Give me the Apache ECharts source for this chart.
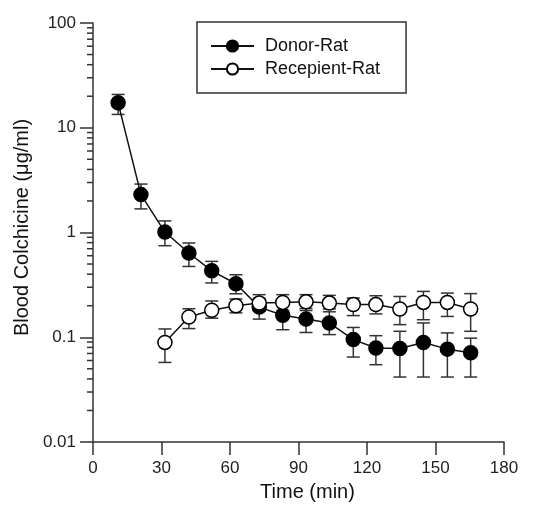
<!DOCTYPE html>
<html>
<head>
<meta charset="utf-8">
<script src="https://cdn.jsdelivr.net/npm/echarts@6/dist/echarts.min.js"></script>
<style>
html,body{margin:0;padding:0;background:#fff;}
#chart{width:536px;height:507px;}
</style>
</head>
<body>
<div id="chart"></div>
<script>
// Time (min)
const donorTimes = [11.0, 21.0, 31.5, 42.0, 52.0, 62.6, 72.8, 83.1, 93.3, 103.5, 114.0, 123.9, 134.4, 144.7, 155.2, 165.4];
const donorMean  = [17.3, 2.30, 1.01, 0.637, 0.431, 0.324, 0.194, 0.162, 0.149, 0.137, 0.095, 0.079, 0.078, 0.089, 0.077, 0.071];
const donorUpper = [20.8, 2.90, 1.29, 0.794, 0.530, 0.395, 0.235, 0.200, 0.188, 0.175, 0.124, 0.1035, 0.114, 0.137, 0.110, 0.098];
const donorLower = [13.4, 1.68, 0.748, 0.474, 0.330, 0.26, 0.149, 0.118, 0.111, 0.106, 0.0647, 0.0547, 0.0417, 0.0417, 0.0417, 0.0417];

const recipTimes = [31.5, 42.0, 52.0, 62.6, 72.8, 83.1, 93.3, 103.5, 114.0, 123.9, 134.4, 144.7, 155.2, 165.4];
const recipMean  = [0.0893, 0.156, 0.181, 0.200, 0.212, 0.215, 0.218, 0.212, 0.205, 0.205, 0.186, 0.215, 0.215, 0.186];
const recipUpper = [0.120, 0.187, 0.222, 0.232, 0.255, 0.255, 0.255, 0.251, 0.237, 0.249, 0.245, 0.274, 0.264, 0.261];
const recipLower = [0.0575, 0.121, 0.152, 0.171, 0.177, 0.180, 0.180, 0.186, 0.161, 0.167, 0.132, 0.147, 0.158, 0.114];

const yTickLabels = ['0.01', '0.1', '1', '10', '100'];
const yMinorTicks = [0.02,0.03,0.04,0.05,0.06,0.07,0.08,0.09,
                     0.2,0.3,0.4,0.5,0.6,0.7,0.8,0.9,
                     2,3,4,5,6,7,8,9,
                     20,30,40,50,60,70,80,90];

const FONT = '"Liberation Sans", Arial, sans-serif';
const AX = '#333';

function zipErr(t, lo, hi) { return t.map((x, i) => [x, lo[i], hi[i]]); }
function zipPts(t, v) { return t.map((x, i) => [x, v[i]]); }

function errRender(params, api) {
  const x = api.value(0), lo = api.value(1), hi = api.value(2);
  const pHi = api.coord([x, hi]);
  const pLo = api.coord([x, lo]);
  const w = 6.5;
  const style = { stroke: AX, lineWidth: 1.5, fill: null };
  return {
    type: 'group',
    children: [
      { type: 'line', shape: { x1: pHi[0], y1: pHi[1], x2: pLo[0], y2: pLo[1] }, style: style },
      { type: 'line', shape: { x1: pHi[0] - w, y1: pHi[1], x2: pHi[0] + w, y2: pHi[1] }, style: style },
      { type: 'line', shape: { x1: pLo[0] - w, y1: pLo[1], x2: pLo[0] + w, y2: pLo[1] }, style: style }
    ]
  };
}

function minorTickRender(params, api) {
  const p = api.coord([0, api.value(1)]);
  return { type: 'line', shape: { x1: p[0] - 6, y1: p[1], x2: p[0], y2: p[1] },
           style: { stroke: AX, lineWidth: 1.5 } };
}

const chart = echarts.init(document.getElementById('chart'), null, { renderer: 'canvas' });
chart.setOption({
  animation: false,
  backgroundColor: '#fff',
  textStyle: { fontFamily: FONT },
  grid: { left: 93, right: 32, top: 23, bottom: 65 },
  legend: {
    data: ['Donor-Rat', 'Recepient-Rat'],
    orient: 'vertical',
    left: 197, top: 22,
    padding: [15, 26, 15, 13],
    itemGap: 5,
    itemWidth: 43, itemHeight: 14,
    borderColor: AX, borderWidth: 1.5,
    backgroundColor: '#fff',
    selectedMode: false,
    textStyle: { fontFamily: FONT, fontSize: 18, color: '#111', padding: [0, 0, 0, 6] }
  },
  xAxis: {
    type: 'value', min: 0, max: 180, interval: 30,
    name: 'Time (min)', nameLocation: 'middle', nameGap: 40,
    nameTextStyle: { fontFamily: FONT, fontSize: 20, color: '#111', padding: [0, 0, 0, 18] },
    axisLine: { lineStyle: { color: AX, width: 1.5 } },
    axisTick: { length: 13, lineStyle: { color: AX, width: 1.5 } },
    axisLabel: { fontFamily: FONT, fontSize: 17, color: '#222', margin: 18 },
    splitLine: { show: false }
  },
  yAxis: {
    type: 'log', logBase: 10, min: 0.01, max: 100,
    name: 'Blood Colchicine (\u03bcg/ml)', nameLocation: 'middle', nameGap: 58, nameRotate: 90,
    nameTextStyle: { fontFamily: FONT, fontSize: 20, color: '#111', padding: [0, 0, 0, 10] },
    axisLine: { show: true, lineStyle: { color: AX, width: 1.5 } },
    axisTick: { length: 13, lineStyle: { color: AX, width: 1.5 } },
    axisLabel: { fontFamily: FONT, fontSize: 17, color: '#222', margin: 17,
                 formatter: function (v, i) { return yTickLabels[i] !== undefined ? yTickLabels[i] : String(v); } },
    splitLine: { show: false }
  },
  series: [
    { type: 'custom', name: 'minorTicks', renderItem: minorTickRender, clip: false, silent: true,
      data: yMinorTicks.map(v => [0, v]), encode: { x: 0, y: 1 } },
    { type: 'custom', name: 'donorErr', renderItem: errRender, silent: true,
      data: zipErr(donorTimes, donorLower, donorUpper), encode: { x: 0, y: [1, 2] } },
    { type: 'line', name: 'Donor-Rat', data: zipPts(donorTimes, donorMean),
      symbol: 'circle', symbolSize: 14, showAllSymbol: true,
      lineStyle: { color: '#111', width: 1.5 },
      itemStyle: { color: '#000', borderColor: '#000', borderWidth: 1.5 } },
    { type: 'custom', name: 'recipErr', renderItem: errRender, silent: true,
      data: zipErr(recipTimes, recipLower, recipUpper), encode: { x: 0, y: [1, 2] } },
    { type: 'line', name: 'Recepient-Rat', data: zipPts(recipTimes, recipMean),
      symbol: 'circle', symbolSize: 14, showAllSymbol: true,
      lineStyle: { color: '#111', width: 1.5 },
      itemStyle: { color: '#fff', borderColor: '#000', borderWidth: 1.5 } }
  ]
});
</script>
</body>
</html>
